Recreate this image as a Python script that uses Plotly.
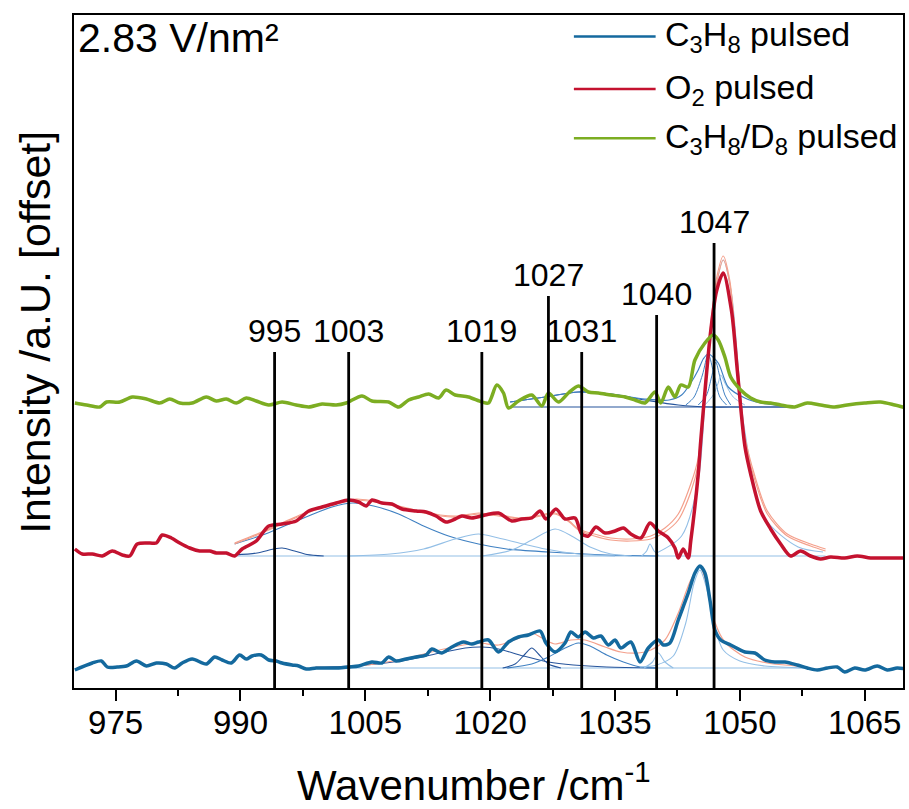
import plotly.graph_objects as go

# ---------------- measured spectra (intensity relative to own baseline) ----------------
wn_c3h8 = [970.1, 972.2, 973.3, 974.0, 975.2, 976.3, 977.5, 978.7, 979.9, 981.1, 982.1, 983.0, 984.2, 985.9, 986.9,
           987.8, 988.9, 989.9, 990.7, 991.4, 992.5, 993.4, 994.3, 995.0, 996.2, 997.0, 997.9, 999.1, 1000.3, 1001.8,
           1003.0, 1004.2, 1005.8, 1007.0, 1007.8, 1008.7, 1009.9, 1011.1, 1012.3, 1013.0, 1014.2, 1015.4, 1016.8,
           1017.8, 1018.6, 1019.8, 1021.0, 1022.2, 1023.4, 1024.6, 1026.0, 1026.7, 1027.8, 1029.0, 1029.7, 1030.6,
           1031.4, 1032.4, 1033.3, 1034.2, 1035.0, 1035.7, 1036.9, 1038.0, 1039.0, 1040.2, 1040.8, 1041.6, 1042.6,
           1043.8, 1044.6, 1045.2, 1045.8, 1046.4, 1047.0, 1047.7, 1048.9, 1050.6, 1051.8, 1053.0, 1054.2, 1055.4,
           1056.9, 1058.1, 1059.3, 1060.5, 1061.7, 1062.6, 1063.8, 1065.0, 1066.5, 1067.7, 1068.9, 1070.0]
int_c3h8 = [-2, 5, 7, 1, 1, 2, 7, 2, 5, 4, 0, 5, 9, 4, 11, 8, 5, 13, 9, 12, 13, 8, 7, 5, 3, 2, -1, 0, 0, 0,
            1, 2, 6, 5, 11, 7, 9, 11, 13, 19, 15, 21, 26, 24, 26, 28, 16, 26, 31, 33, 37, 25, 16, 25, 36, 31, 36, 30,
            32, 23, 28, 20, 26, 6, 20, 28, 23, 25, 48, 75, 95, 102, 95, 68, 38, 28, 23, 16, 15, 8, 6, 6, 3, 0, -2, 0,
            1, -4, 0, -2, 2, -2, 0, -1]

wn_o2 = [970.1, 971.0, 972.2, 973.4, 974.6, 975.8, 976.7, 977.6, 979.1, 979.9, 980.6, 981.7, 982.7, 983.9, 985.1,
         986.3, 987.1, 988.3, 989.3, 990.2, 991.9, 993.4, 995.0, 996.7, 998.2, 999.8, 1001.5, 1003.0, 1004.2, 1005.1,
         1005.8, 1007.0, 1008.2, 1009.4, 1011.1, 1012.3, 1013.5, 1014.7, 1015.8, 1016.6, 1017.8, 1019.4, 1021.0,
         1022.6, 1023.8, 1025.0, 1026.0, 1026.7, 1027.9, 1029.0, 1030.2, 1031.0, 1031.8, 1032.7, 1033.8, 1035.0,
         1036.0, 1036.9, 1038.1, 1039.2, 1040.2, 1041.4, 1042.2, 1042.6, 1043.2, 1043.8, 1044.1, 1045.0, 1045.3,
         1046.5, 1047.2, 1048.0, 1049.0, 1049.7, 1050.6, 1051.3, 1052.5, 1053.7, 1054.9, 1056.1, 1057.3, 1058.5,
         1059.7, 1060.9, 1062.6, 1064.1, 1065.7, 1067.4, 1068.9, 1070.0]
int_o2 = [7, 2, 2, 0, 5, 1, 0, 12, 13, 13, 21, 18, 13, 8, 5, 5, 3, 3, 0, 7, 15, 30, 32, 35, 45, 49, 53, 56, 54, 50,
          56, 53, 52, 47, 45, 44, 40, 34, 37, 40, 38, 41, 43, 35, 37, 38, 45, 37, 47, 37, 38, 22, 20, 29, 23, 25, 28,
          22, 18, 33, 25, 18, 8, -2, 7, -2, 15, 82, 115, 225, 265, 283, 245, 185, 110, 82, 45, 27, 12, 0, 5, 0, -3,
          -1, -2, 0, -2, -2, -2, -2]

wn_c3d8 = [970.1, 971.5, 973.1, 973.9, 975.5, 977.0, 978.7, 980.3, 981.5, 982.7, 984.2, 985.9, 987.1, 988.3, 989.5,
           990.7, 991.9, 993.4, 995.0, 996.7, 998.2, 999.8, 1001.5, 1002.7, 1004.6, 1005.8, 1007.8, 1009.0, 1010.2,
           1011.4, 1012.6, 1013.8, 1014.7, 1015.8, 1017.4, 1019.0, 1019.8, 1020.8, 1021.6, 1022.2, 1023.4, 1025.0,
           1026.2, 1027.0, 1028.2, 1029.4, 1030.6, 1031.8, 1033.0, 1034.5, 1036.2, 1037.4, 1038.6, 1039.8, 1040.5,
           1041.4, 1042.2, 1042.9, 1043.8, 1044.6, 1045.8, 1046.8, 1047.4, 1048.2, 1048.9, 1050.1, 1051.3, 1052.5,
           1053.7, 1054.9, 1056.6, 1058.1, 1059.7, 1061.4, 1062.9, 1065.0, 1066.9, 1068.6, 1070.0]
int_c3d8 = [2, 0, -2, 3, 3, 8, 6, 2, 6, 2, 2, 8, 4, 6, 2, 7, 4, 0, 3, 0, -2, 1, 0, 2, 9, 4, 3, -2, 5, 8, 11, 7, 15,
            10, 8, 3, 2, 20, 12, -3, 4, 10, -1, 12, 3, 12, 19, 13, 12, 10, 8, 5, 2, 13, 2, 18, 8, 20, 18, 45, 62, 70,
            65, 48, 28, 15, 7, 3, 2, 0, -2, 2, 0, -2, 0, 2, 3, 0, -3]

# vertical offsets of the three spectra
offset_c3h8 = 20
offset_o2 = 132
offset_c3d8 = 283

# ---------------- fit curves ----------------
# C3H8 pulsed fit
fb_base_wn = [999.0, 1058.1]
fb_base = [0, 0]
fb_env_wn = [999.0, 1003.0, 1009.0, 1015.0, 1018.6, 1021.0, 1023.8, 1025.0, 1026.6, 1027.8, 1029.7, 1031.4, 1033.8,
             1035.7, 1037.8, 1039.3, 1041.0, 1042.6, 1044.1, 1045.2, 1046.1, 1047.0, 1048.2, 1050.6, 1053.3, 1056.6,
             1058.1]
fb_env = [1, 1, 8, 20, 25, 23, 31, 35, 28, 24, 28, 28, 21, 16, 15, 18, 28, 55, 88, 101, 81, 46, 26, 11, 5, 2, 0]
fb_c1_wn = [999, 1005, 1010, 1014, 1017, 1019, 1021, 1024, 1027, 1030, 1034, 1040]
fb_c1 = [0.5, 3, 8, 15, 20, 21, 19, 12, 6, 3, 1, 0]
fb_c2_wn = [1021.5, 1023, 1024.2, 1025.0, 1025.8, 1027, 1028.5]
fb_c2 = [0, 4, 14, 20, 14, 4, 0]
fb_c3_wn = [1022, 1025, 1027, 1029, 1030.6, 1032, 1034, 1036, 1038, 1040]
fb_c3 = [0, 4, 11, 20, 25, 22, 13, 6, 1, 0]
fb_c4_wn = [1038.5, 1039.5, 1040.2, 1041, 1042]
fb_c4 = [0, 6, 15, 6, 0]
fb_c5_wn = [1038, 1040, 1042, 1043.5, 1044.5, 1045.2, 1046, 1047, 1048, 1050, 1053, 1058]
fb_c5 = [1, 3, 12, 45, 85, 98, 80, 40, 18, 7, 2, 0]

# O2 pulsed fit
fr_base_wn = [989.3, 1060.3]
fr_base = [0, 0]
fr_env_wn = [989.3, 992, 995, 998, 1001, 1003.9, 1006, 1008, 1011, 1014, 1016, 1018.6, 1021, 1023.5, 1025.5, 1027.8,
             1029.5, 1030.6, 1032.5, 1034.5, 1036.9, 1039.3, 1041.0, 1042.6, 1044.1, 1045.0, 1046.0, 1046.5, 1047.2,
             1048.0, 1048.8, 1049.7, 1050.6, 1051.8, 1053.3, 1055.7, 1058.5, 1060.3]
fr_env = [13, 22, 33, 44, 52, 57, 55, 52, 46, 41, 40, 43, 41, 38, 40, 43, 35, 27, 22, 18, 17, 20, 28, 42, 72, 98,
          190, 232, 278, 300, 275, 195, 120, 80, 45, 22, 12, 7]
fr_env2 = [12, 21, 32, 43, 51, 56, 54, 51, 45, 40, 39, 42, 40, 37, 39, 42, 34, 26, 20, 16, 15, 17, 24, 36, 64, 92,
           185, 228, 272, 296, 272, 192, 116, 76, 42, 20, 10, 5]
fr_c1_wn = [989.3, 992, 994, 995, 996.5, 998, 1000]
fr_c1 = [1, 3, 7, 8, 5, 1.5, 0]
fr_c2_wn = [989.3, 993, 997, 1001, 1003.5, 1006, 1009, 1012, 1015, 1018.6, 1022, 1027, 1034, 1040]
fr_c2 = [12, 22, 36, 49, 53, 50, 42, 30, 20, 12, 7, 4, 1, 0]
fr_c3_wn = [1003, 1008, 1012, 1015.8, 1018.6, 1021, 1024, 1026.6, 1030.6, 1035]
fr_c3 = [0, 2, 7, 17, 22, 18, 12, 7, 2, 0]
fr_c4_wn = [1019, 1022.6, 1025, 1027.8, 1030, 1032, 1034.5, 1037]
fr_c4 = [0, 6, 16, 27, 19, 9, 2, 0]
fr_c5_wn = [1038.2, 1038.8, 1039.2, 1039.7, 1040.3]
fr_c5 = [0, 5, 12, 5, 0]
fr_c6_wn = [1040, 1043, 1045, 1046, 1047, 1048, 1049, 1050.5, 1053, 1057, 1060]
fr_c6 = [3, 20, 75, 180, 262, 296, 262, 130, 38, 9, 4]

# C3H8/D8 pulsed fit
fg_base_wn = [1022.2, 1056.6]
fg_base = [-2, -2]
fg_env_wn = [1022.4, 1026.6, 1030.6, 1034.5, 1038.6, 1041.5, 1043.0, 1044.1, 1045.0, 1045.6, 1046.2, 1047.4, 1048.6,
             1050.6, 1052.5, 1056.6]
fg_env = [3, 8, 13, 11, 6, 5, 10, 22, 35, 46, 51, 42, 18, 7, 2, -2]
fg_c1_wn = [1022.4, 1026.6, 1030.6, 1034.5, 1038.6, 1042.6, 1046.5, 1050, 1056.6]
fg_c1 = [3, 8, 13, 11, 5, 0, -2, -2, -2]
fg_c2_wn = [1043.5, 1044.5, 1045.5, 1046.2, 1046.9, 1047.6, 1048.4]
fg_c2 = [0, 8, 30, 51, 30, 8, 0]
fg_c3_wn = [1045.0, 1046.0, 1046.6, 1047.1, 1047.6, 1048.2, 1048.9]
fg_c3 = [0, 10, 28, 43, 28, 10, 0]
fg_c4_wn = [1045.8, 1046.8, 1047.4, 1047.7, 1048.2, 1049.2, 1050.6]
fg_c4 = [0, 10, 22, 30, 22, 8, 0]

# ---------------- band markers ----------------
band_pos = [994.1, 1003, 1019, 1027, 1031, 1040, 1046.9]
band_labels = ["995", "1003", "1019", "1027", "1031", "1040", "1047"]
band_top = [336, 336, 336, 392, 336, 373, 445]

x_ticks = [975, 990, 1005, 1020, 1035, 1050, 1065]
x_range = [970, 1069.6]
series_names = ["C<sub>3</sub>H<sub>8</sub> pulsed", "O<sub>2</sub> pulsed", "C<sub>3</sub>H<sub>8</sub>/D<sub>8</sub> pulsed"]

# ---------------- styling ----------------
BLUE = "#14699e"
RED = "#c4122f"
GREEN = "#7cad22"
SALMON = "#f4a08c"
NAVY = "#27559c"
MID = "#3f80c2"
LIGHT = "#93bfe6"
FONT = "Liberation Sans, Arial, sans-serif"

fig = go.Figure()


def add_line(xs, ys, off, color, width, shape="spline"):
    fig.add_trace(go.Scatter(x=xs, y=[v + off for v in ys], mode="lines",
                             line=dict(color=color, width=width, shape=shape, smoothing=0.8),
                             showlegend=False, hoverinfo="skip"))


# fits (drawn beneath the data)
add_line(fb_base_wn, fb_base, offset_c3h8, LIGHT, 1.2, "linear")
add_line(fb_c1_wn, fb_c1, offset_c3h8, NAVY, 1.1)
add_line(fb_c2_wn, fb_c2, offset_c3h8, NAVY, 1.1)
add_line(fb_c3_wn, fb_c3, offset_c3h8, MID, 1.1)
add_line(fb_c4_wn, fb_c4, offset_c3h8, LIGHT, 1.1)
add_line(fb_c5_wn, fb_c5, offset_c3h8, LIGHT, 1.1)
add_line(fb_env_wn, fb_env, offset_c3h8, SALMON, 1.2)

add_line(fr_base_wn, fr_base, offset_o2, LIGHT, 1.2, "linear")
add_line(fr_c1_wn, fr_c1, offset_o2, NAVY, 1.1)
add_line(fr_c2_wn, fr_c2, offset_o2, MID, 1.1)
add_line(fr_c3_wn, fr_c3, offset_o2, LIGHT, 1.1)
add_line(fr_c4_wn, fr_c4, offset_o2, LIGHT, 1.1)
add_line(fr_c5_wn, fr_c5, offset_o2, LIGHT, 1.1)
add_line(fr_c6_wn, fr_c6, offset_o2, LIGHT, 1.1)
add_line(fr_env_wn, fr_env, offset_o2, SALMON, 1.2)
add_line(fr_env_wn, fr_env2, offset_o2, SALMON, 1.2)

add_line(fg_base_wn, fg_base, offset_c3d8, NAVY, 1.1, "linear")
add_line(fg_c1_wn, fg_c1, offset_c3d8, NAVY, 1.1)
add_line(fg_c2_wn, fg_c2, offset_c3d8, MID, 1.0)
add_line(fg_c3_wn, fg_c3, offset_c3d8, MID, 1.0)
add_line(fg_c4_wn, fg_c4, offset_c3d8, LIGHT, 1.0)
add_line(fg_env_wn, fg_env, offset_c3d8, MID, 1.2)

# spectra
add_line(wn_c3h8, int_c3h8, offset_c3h8, BLUE, 3.5)
add_line(wn_o2, int_o2, offset_o2, RED, 3.5)
add_line(wn_c3d8, int_c3d8, offset_c3d8, GREEN, 3.5)

# band markers
for p, top in zip(band_pos, band_top):
    fig.add_trace(go.Scatter(x=[p, p], y=[0, top], mode="lines",
                             line=dict(color="black", width=2.8),
                             showlegend=False, hoverinfo="skip"))

# invisible trace that carries the tick-mark overlay axis
fig.add_trace(go.Scatter(x=x_range, y=[0, 0], xaxis="x2", mode="lines",
                         line=dict(width=0, color="rgba(0,0,0,0)"), showlegend=False, hoverinfo="skip"))

annotations = []
for p, top, lab in zip(band_pos, band_top, band_labels):
    annotations.append(dict(x=p, y=top, xref="x", yref="y", text=lab, showarrow=False,
                            xanchor="center", yanchor="bottom", yshift=1,
                            font=dict(family=FONT, size=32, color="black")))

# legend (manual, Origin style)
leg_colors = [BLUE, RED, GREEN]
leg_y = [0.968, 0.890, 0.817]
shapes = []
for c, yy, name in zip(leg_colors, leg_y, series_names):
    shapes.append(dict(type="line", xref="paper", yref="paper", x0=0.603, x1=0.7016, y0=yy, y1=yy,
                       line=dict(color=c, width=2.5)))
    annotations.append(dict(x=0.710, y=yy, xref="paper", yref="paper", text=name, showarrow=False,
                            xanchor="left", yanchor="middle",
                            font=dict(family=FONT, size=34, color="black")))

annotations.append(dict(x=0, y=1, xref="paper", yref="paper", text="2.83 V/nm²", showarrow=False,
                        xanchor="left", yanchor="top", xshift=2, yshift=2,
                        font=dict(family=FONT, size=41, color="black")))
annotations.append(dict(x=-0.048, y=0.528, xref="paper", yref="paper", text="Intensity /a.U. [offset]",
                        showarrow=False, textangle=-90, xanchor="center", yanchor="middle",
                        font=dict(family=FONT, size=43, color="black")))
annotations.append(dict(x=0.483, y=-0.140, xref="paper", yref="paper", text="Wavenumber /cm<sup>-1</sup>",
                        showarrow=False, xanchor="center", yanchor="middle",
                        font=dict(family=FONT, size=42, color="black")))

fig.update_layout(
    width=909, height=809,
    margin=dict(l=74, r=4, t=15, b=121),
    paper_bgcolor="white", plot_bgcolor="white",
    showlegend=False,
    shapes=shapes,
    annotations=annotations,
    font=dict(family=FONT, color="black"),
    xaxis=dict(range=x_range, tickmode="array", tickvals=x_ticks,
               ticktext=[str(t) for t in x_ticks],
               ticks="outside", ticklen=4, tickwidth=2, tickcolor="black",
               minor=dict(ticks="outside", ticklen=6, tickwidth=2, tickcolor="black", dtick=7.5),
               showline=True, linewidth=2, linecolor="black", mirror=True,
               showgrid=False, zeroline=False,
               tickfont=dict(family=FONT, size=33, color="black")),
    xaxis2=dict(range=x_range, overlaying="x", side="bottom", anchor="y",
                tickmode="array", tickvals=x_ticks, showticklabels=False,
                ticks="outside", ticklen=12, tickwidth=2, tickcolor="black",
                showline=False, showgrid=False, zeroline=False),
    yaxis=dict(range=[0, 673], showticklabels=False, ticks="",
               showline=True, linewidth=2, linecolor="black", mirror=True,
               showgrid=False, zeroline=False),
)

fig.write_html("out.html")
